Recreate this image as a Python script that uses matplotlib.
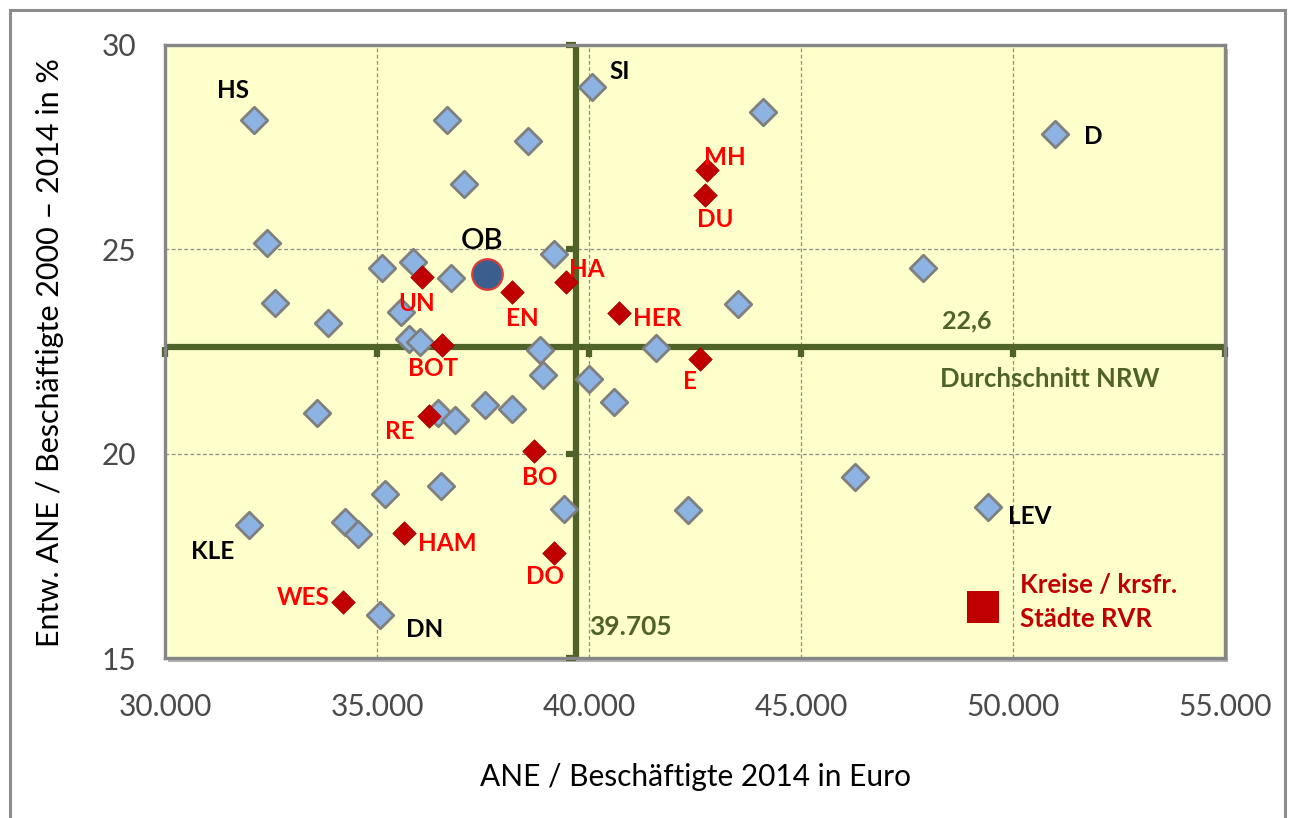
import matplotlib
matplotlib.use("Agg")
import matplotlib.pyplot as plt
from matplotlib.patches import Rectangle
from matplotlib.ticker import FuncFormatter, FixedLocator

plt.rcParams['font.family'] = ['Lato', 'DejaVu Sans']

# ---- data ----
# blue diamonds: other Kreise / kreisfreie Städte NRW
blue_x = [32099, 36658, 38561, 37052, 40071, 44094, 50981, 32406, 35110, 35849,
          36738, 39185, 32594, 33836, 35573, 35762, 36014, 38844, 38907, 39990,
          33577, 36446, 36847, 37547, 38176, 35189, 36509, 39418, 31981, 34245,
          34544, 35071, 47870, 43509, 41569, 40578, 46274, 49415, 42330]
blue_y = [28.17, 28.16, 27.65, 26.61, 28.97, 28.37, 27.83, 25.16, 24.55, 24.70,
          24.29, 24.88, 23.68, 23.19, 23.47, 22.80, 22.73, 22.54, 21.93, 21.82,
          20.99, 20.99, 20.82, 21.19, 21.09, 19.01, 19.22, 18.65, 18.26, 18.34,
          18.04, 16.04, 24.55, 23.66, 22.59, 21.26, 19.42, 18.69, 18.62]
blue_names = {0: "HS", 4: "SI", 6: "D", 28: "KLE", 31: "DN", 37: "LEV"}

# red diamonds: Kreise / krsfr. Städte RVR
red_names = ["UN", "EN", "HA", "BOT", "RE", "BO", "HAM", "DO", "WES", "MH", "DU", "HER", "E"]
red_x = [36069, 38191, 39450, 36525, 36234, 38703, 35637, 39182, 34205, 42790, 42727, 40700, 42623]
red_y = [24.32, 23.95, 24.19, 22.66, 20.91, 20.07, 18.05, 17.58, 16.38, 26.94, 26.32, 23.45, 22.32]

# Oberhausen
ob_x, ob_y = 37587, 24.40

avg_x = 39705   # NRW average ANE/Beschäftigte
avg_y = 22.6    # NRW average development

x_ticks = [30000, 35000, 40000, 45000, 50000, 55000]
y_ticks = [15, 20, 25, 30]

# label offsets (points)
offsets = {"HS": (-15, 21), "SI": (20, 11.5), "D": (28, -2), "KLE": (-26, -19), "DN": (32, -10),
           "LEV": (30, -7), "UN": (-4, -19), "EN": (7, -19), "HA": (15, 9), "BOT": (-6, -17),
           "RE": (-21, -11), "BO": (4, -19), "HAM": (31, -7), "DO": (-6.5, -17), "WES": (-29, 3),
           "MH": (13, 9), "DU": (8, -17), "HER": (28, -4), "E": (-7, -16)}

W, H = 1289, 818
fig = plt.figure(figsize=(W / 100, H / 100), dpi=100)
fig.patch.set_facecolor("white")

# outer frame
fig.patches.append(Rectangle((10 / W, -0.02), (1285 - 10) / W, (818 - 10) / H + 0.02,
                             transform=fig.transFigure, fill=False, edgecolor="#8C8C8C",
                             linewidth=2.2, zorder=-2))

L, R, T, B = 165, 1225, 45, 658
ax = fig.add_axes([L / W, (H - B) / H, (R - L) / W, (B - T) / H])
ax.set_zorder(1)
# shadow
fig.patches.append(Rectangle(((L + 3) / W, (H - B - 4) / H), (R - L) / W, (B - T) / H,
                             transform=fig.transFigure, facecolor="#B0B0B0", edgecolor="none",
                             zorder=-1))
ax.set_facecolor("#FFFFCC")
ax.set_xlim(30000, 55000)
ax.set_ylim(15, 30)
for s in ax.spines.values():
    s.set_color("#868686")
    s.set_linewidth(2.4)

ax.xaxis.set_major_locator(FixedLocator(x_ticks))
ax.yaxis.set_major_locator(FixedLocator(y_ticks))
ax.xaxis.set_major_formatter(FuncFormatter(lambda v, p: f"{int(v):,}".replace(",", ".")))
ax.yaxis.set_major_formatter(FuncFormatter(lambda v, p: f"{int(v)}"))
ax.tick_params(axis="both", length=0, labelsize=21.5, labelcolor="#4A4A4A")
ax.tick_params(axis="x", pad=25)
ax.tick_params(axis="y", pad=21)
ax.grid(True, color="#8C8C8C", linestyle=(0, (3, 2)), linewidth=0.9)
ax.set_axisbelow(True)

olive = "#4F6228"
ax.axhline(avg_y, color=olive, lw=4.5, zorder=2)
ax.axvline(avg_x, color=olive, lw=4.5, zorder=2)
ax.plot(x_ticks, [avg_y] * len(x_ticks), linestyle="none", marker=3, markersize=7,
        mew=4.5, color=olive, zorder=2, clip_on=False)
ax.plot([avg_x] * len(y_ticks), y_ticks, linestyle="none", marker=0, markersize=7,
        mew=4.5, color=olive, zorder=2, clip_on=False)

ax.scatter(blue_x, blue_y, marker="D", s=13.5 ** 2, facecolor="#8DB3E2",
           edgecolor="#7F7F7F", linewidth=2.0, zorder=3)
ax.scatter(red_x, red_y, marker="D", s=12 ** 2, facecolor="#C00000",
           edgecolor="#A00000", linewidth=0.5, zorder=4)
ax.scatter([ob_x], [ob_y], marker="o", s=22 ** 2, facecolor="#3A5F8F",
           edgecolor="#E03C3C", linewidth=1.6, zorder=5)

lab_fs = 17.5
for i, n in blue_names.items():
    ax.annotate(n, (blue_x[i], blue_y[i]), xytext=offsets[n], textcoords="offset points",
                ha="center", va="center", fontsize=lab_fs, fontweight="bold", color="black",
                zorder=6)
for n, x, y in zip(red_names, red_x, red_y):
    ax.annotate(n, (x, y), xytext=offsets[n], textcoords="offset points",
                ha="center", va="center", fontsize=lab_fs, fontweight="bold", color="#FF0000",
                zorder=6)
ax.annotate("OB", (ob_x, ob_y), xytext=(-3, 24), textcoords="offset points",
            ha="center", va="center", fontsize=21, fontweight="semibold", color="black", zorder=6)

ax.annotate(f"{avg_y}".replace(".", ","), (48900, avg_y), xytext=(0, 19),
            textcoords="offset points", ha="center", va="center",
            fontsize=18, fontweight="bold", color=olive)
ax.annotate("Durchschnitt NRW", (48280, avg_y), xytext=(0, -23),
            textcoords="offset points", ha="left", va="center",
            fontsize=18.5, fontweight="bold", color=olive)
ax.annotate(f"{avg_x:,}".replace(",", "."), (avg_x, 15.75), xytext=(9, 0),
            textcoords="offset points", ha="left", va="center",
            fontsize=19, fontweight="bold", color=olive)

# legend
fig.patches.append(Rectangle((967 / W, (H - 623) / H), 32 / W, 32 / H, transform=fig.transFigure,
                             facecolor="#C00000", edgecolor="none", zorder=5))
fig.text(1020 / W, (H - 585) / H, "Kreise / krsfr.", ha="left", va="center",
         fontsize=18.5, fontweight="bold", color="#C00000", zorder=5)
fig.text(1020 / W, (H - 619) / H, "Städte RVR", ha="left", va="center",
         fontsize=18.5, fontweight="bold", color="#C00000", zorder=5)

fig.text(696 / W, (H - 777) / H, "ANE / Beschäftigte 2014 in Euro", ha="center", va="center",
         fontsize=21.5, color="black")
fig.text(50 / W, (H - 353) / H, "Entw. ANE / Beschäftigte 2000 – 2014 in %", ha="center",
         va="center", rotation=90, fontsize=22, color="black")

fig.savefig("out.png", dpi=100)
